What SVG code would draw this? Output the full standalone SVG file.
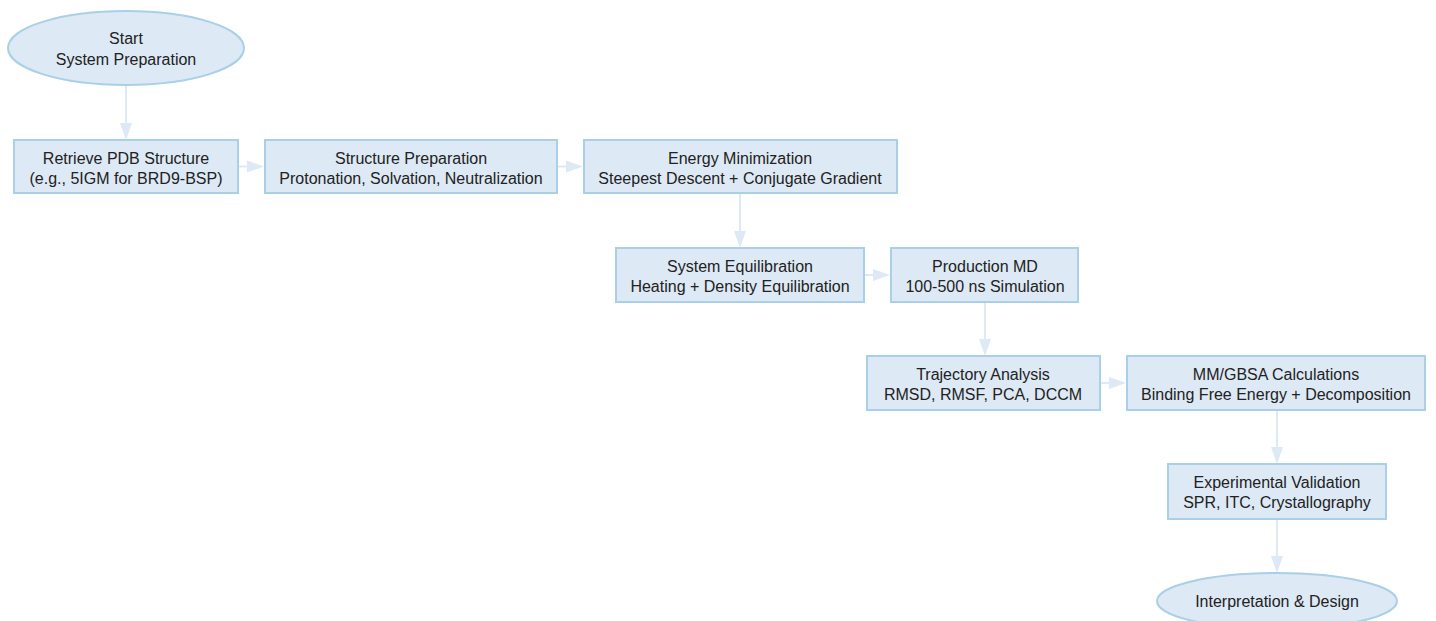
<svg xmlns="http://www.w3.org/2000/svg" width="1436" height="621" viewBox="0 0 1436 621">
<defs>
<style>
.n{fill:#dde9f5;stroke:#a9d0e6;stroke-width:2}
.t{font-family:"Liberation Sans",Arial,sans-serif;font-size:16px;fill:#222;text-anchor:middle}
.c{stroke:#dde9f5;stroke-width:2;fill:none}
.h{fill:#dde9f5}
</style>
</defs>
<rect width="1436" height="621" fill="#ffffff"/>
<g id="connectors">
<line class="c" x1="126" y1="86" x2="126" y2="126"/><polygon class="h" points="120,123 132,123 126,140"/>
<line class="c" x1="238" y1="166.5" x2="250" y2="166.5"/><polygon class="h" points="247,160.5 247,172.5 264,166.5"/>
<line class="c" x1="557" y1="166.5" x2="570" y2="166.5"/><polygon class="h" points="566,160.5 566,172.5 583,166.5"/>
<line class="c" x1="740" y1="193" x2="740" y2="234"/><polygon class="h" points="734,231 746,231 740,248"/>
<line class="c" x1="865" y1="275" x2="877" y2="275"/><polygon class="h" points="873,269 873,281 890,275"/>
<line class="c" x1="985" y1="302" x2="985" y2="342"/><polygon class="h" points="979,339 991,339 985,356"/>
<line class="c" x1="1100" y1="383" x2="1113" y2="383"/><polygon class="h" points="1109,377 1109,389 1126,383"/>
<line class="c" x1="1277" y1="410" x2="1277" y2="450"/><polygon class="h" points="1271,447 1283,447 1277,464"/>
<line class="c" x1="1277" y1="519" x2="1277" y2="559"/><polygon class="h" points="1271,556 1283,556 1277,573"/>
</g>
<g id="start"><ellipse class="n" cx="126" cy="48" rx="118" ry="37"/><text class="t" x="126" y="44">Start</text><text class="t" x="126" y="65">System Preparation</text></g>
<g id="retrieve"><rect class="n" x="14" y="140" width="224" height="53"/><text class="t" x="126" y="164">Retrieve PDB Structure</text><text class="t" x="126" y="184">(e.g., 5IGM for BRD9-BSP)</text></g>
<g id="prep"><rect class="n" x="265" y="140" width="292" height="53"/><text class="t" x="411" y="164">Structure Preparation</text><text class="t" x="411" y="184">Protonation, Solvation, Neutralization</text></g>
<g id="min"><rect class="n" x="584" y="140" width="313" height="53"/><text class="t" x="740" y="164">Energy Minimization</text><text class="t" x="740" y="184">Steepest Descent + Conjugate Gradient</text></g>
<g id="equil"><rect class="n" x="616" y="248" width="248" height="54"/><text class="t" x="740" y="272">System Equilibration</text><text class="t" x="740" y="292">Heating + Density Equilibration</text></g>
<g id="prod"><rect class="n" x="891" y="248" width="187" height="54"/><text class="t" x="985" y="272">Production MD</text><text class="t" x="985" y="292">100-500 ns Simulation</text></g>
<g id="traj"><rect class="n" x="867" y="356" width="233" height="54"/><text class="t" x="983" y="380">Trajectory Analysis</text><text class="t" x="983" y="400">RMSD, RMSF, PCA, DCCM</text></g>
<g id="mmgbsa"><rect class="n" x="1127" y="356" width="298" height="54"/><text class="t" x="1276" y="380">MM/GBSA Calculations</text><text class="t" x="1276" y="400">Binding Free Energy + Decomposition</text></g>
<g id="exp"><rect class="n" x="1168" y="464" width="218" height="55"/><text class="t" x="1277" y="488">Experimental Validation</text><text class="t" x="1277" y="508">SPR, ITC, Crystallography</text></g>
<g id="interp"><ellipse class="n" cx="1277" cy="601" rx="120" ry="28"/><text class="t" x="1277" y="607">Interpretation &amp; Design</text></g>
</svg>
